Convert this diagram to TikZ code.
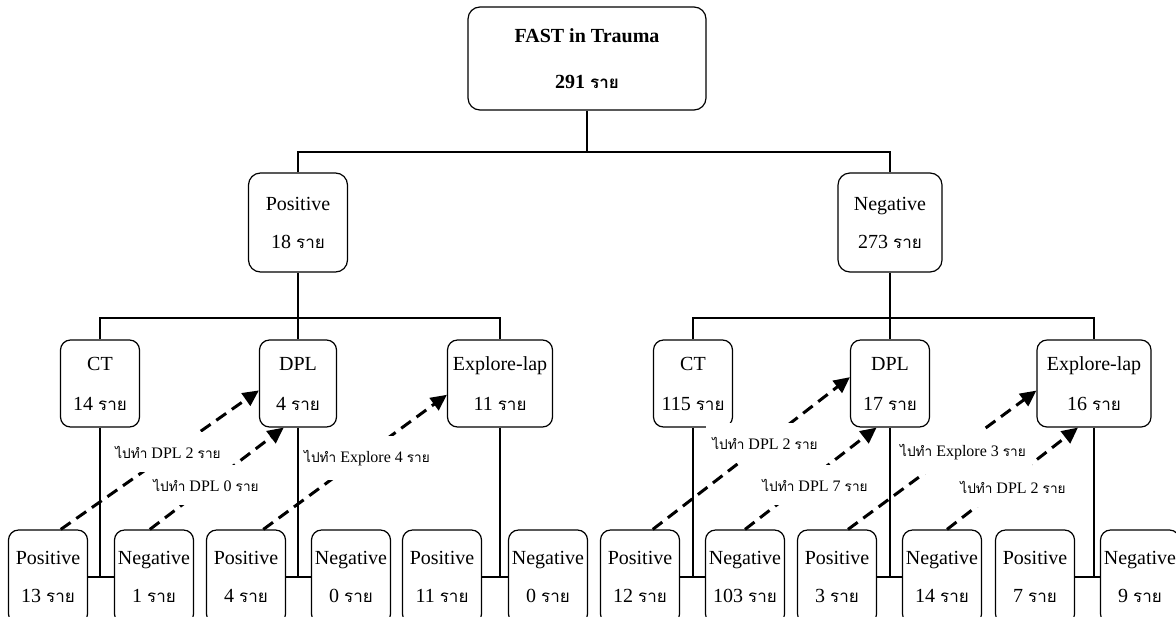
\documentclass[tikz,border=0pt]{standalone}
\usepackage{fontspec}
\setmainfont{Liberation Serif}
\newfontfamily\thaifont[Script=Thai,Scale=0.85]{Loma}
\newcommand{\thai}[1]{{\thaifont #1}}
\usetikzlibrary{arrows.meta}
\tikzset{
  box/.style={draw, line width=0.6pt, rounded corners=6pt, align=center, inner sep=0pt, font=\fontsize{10}{12}\selectfont},
  leaf/.style={box, minimum width=39.5pt, minimum height=47pt, rounded corners=5pt},
  note/.style={fill=white, inner xsep=3pt, inner ysep=7pt, font=\fontsize{8}{9}\selectfont},
  refer/.style={line width=1.5pt, dash pattern=on 6pt off 3.5pt, -{Triangle[length=8pt,width=7.5pt]}},
  tree/.style={line width=1pt}
}

\begin{document}
\begin{tikzpicture}[x=0.5pt,y=-0.5pt]
    \useasboundingbox (0,0) rectangle (1176,616);
    \node[box, minimum width=119pt, minimum height=51.5pt, font=\bfseries] (root) at (587,58.5) {FAST in Trauma\\[11pt]291 \thai{ราย}};
    \node[box, minimum width=49.5pt, minimum height=49.5pt] (pos) at (298,222.5) {Positive\\[7pt]18 \thai{ราย}};
    \node[box, minimum width=52pt, minimum height=49.5pt] (neg) at (890,222.5) {Negative\\[7pt]273 \thai{ราย}};
    \node[box, minimum width=39.5pt, minimum height=43.5pt, rounded corners=5pt] (ct1) at (100,383.5) {CT\\[8pt]14 \thai{ราย}};
    \node[box, minimum width=38.5pt, minimum height=43.5pt, rounded corners=5pt] (dpl1) at (298,383.5) {DPL\\[8pt]4 \thai{ราย}};
    \node[box, minimum width=52.5pt, minimum height=43.5pt, rounded corners=5pt] (ex1) at (500,383.5) {Explore-lap\\[8pt]11 \thai{ราย}};
    \node[box, minimum width=39.5pt, minimum height=43.5pt, rounded corners=5pt] (ct2) at (693,383.5) {CT\\[8pt]115 \thai{ราย}};
    \node[box, minimum width=39.5pt, minimum height=43.5pt, rounded corners=5pt] (dpl2) at (890,383.5) {DPL\\[8pt]17 \thai{ราย}};
    \node[box, minimum width=57pt, minimum height=43.5pt, rounded corners=5pt] (ex2) at (1094,383.5) {Explore-lap\\[8pt]16 \thai{ราย}};
    \node[leaf] (bp1) at (48,577) {Positive\\[7pt]13 \thai{ราย}};
    \node[leaf] (bn1) at (154,577) {Negative\\[7pt]1 \thai{ราย}};
    \node[leaf] (bp2) at (246,577) {Positive\\[7pt]4 \thai{ราย}};
    \node[leaf] (bn2) at (351,577) {Negative\\[7pt]0 \thai{ราย}};
    \node[leaf] (bp3) at (442,577) {Positive\\[7pt]11 \thai{ราย}};
    \node[leaf] (bn3) at (548,577) {Negative\\[7pt]0 \thai{ราย}};
    \node[leaf] (bp4) at (640,577) {Positive\\[7pt]12 \thai{ราย}};
    \node[leaf] (bn4) at (745,577) {Negative\\[7pt]103 \thai{ราย}};
    \node[leaf] (bp5) at (837,577) {Positive\\[7pt]3 \thai{ราย}};
    \node[leaf] (bn5) at (942,577) {Negative\\[7pt]14 \thai{ราย}};
    \node[leaf] (bp6) at (1035,577) {Positive\\[7pt]7 \thai{ราย}};
    \node[leaf] (bn6) at (1140,577) {Negative\\[7pt]9 \thai{ราย}};
    \draw[refer] (bp1.75) -- (dpl1.190);
    \draw[refer] (bn1.95) -- (dpl1.252);
    \draw[refer] (bp2.70) -- (ex1.192);
    \draw[refer] (bp4.75) -- (dpl2.171);
    \draw[refer] (bn4.90) -- (dpl2.253);
    \draw[refer] (bp5.77) -- (ex2.187);
    \draw[refer] (bn5.84) -- (ex2.250);
    \node[note] (n1) at (168,452) {\thai{ไปทำ} DPL 2 \thai{ราย}};
    \node[note] (n2) at (206,485) {\thai{ไปทำ} DPL 0 \thai{ราย}};
    \node[note] (n3) at (367,458) {\thai{ไปทำ} Explore 4 \thai{ราย}};
    \node[note] (n4) at (765,443) {\thai{ไปทำ} DPL 2 \thai{ราย}};
    \node[note] (n5) at (815,485) {\thai{ไปทำ} DPL 7 \thai{ราย}};
    \node[note] (n6) at (963,452) {\thai{ไปทำ} Explore 3 \thai{ราย}};
    \node[note] (n7) at (1013,487) {\thai{ไปทำ} DPL 2 \thai{ราย}};
    \coordinate (top) at (587,152);
    \coordinate (mid1) at (298,318);
    \coordinate (mid2) at (890,318);
    \draw[tree] (root) -- (top);
    \draw[tree] (pos.north) |- (top) -| (neg.north);
    \draw[tree] (pos) -- (mid1);
    \draw[tree] (ct1.north) |- (mid1) -| (ex1.north);
    \draw[tree] (mid1) -- (dpl1.north);
    \draw[tree] (neg) -- (mid2);
    \draw[tree] (ct2.north) |- (mid2) -| (ex2.north);
    \draw[tree] (mid2) -- (dpl2.north);
    \draw[tree] (ct1.south) -- (ct1.south |- bp1.east);
    \draw[tree] (bp1.east) -- (bn1.west);
    \draw[tree] (dpl1.south) -- (dpl1.south |- bp2.east);
    \draw[tree] (bp2.east) -- (bn2.west);
    \draw[tree] (ex1.south) -- (ex1.south |- bp3.east);
    \draw[tree] (bp3.east) -- (bn3.west);
    \draw[tree] (ct2.south) -- (ct2.south |- bp4.east);
    \draw[tree] (bp4.east) -- (bn4.west);
    \draw[tree] (dpl2.south) -- (dpl2.south |- bp5.east);
    \draw[tree] (bp5.east) -- (bn5.west);
    \draw[tree] (ex2.south) -- (ex2.south |- bp6.east);
    \draw[tree] (bp6.east) -- (bn6.west);
\end{tikzpicture}
\end{document}
